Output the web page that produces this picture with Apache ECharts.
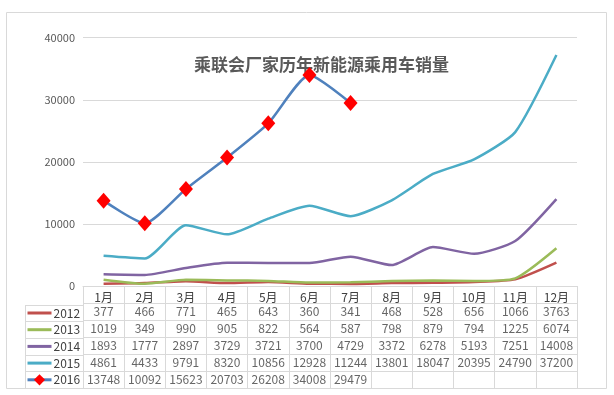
<!DOCTYPE html>
<html><head><meta charset="utf-8">
<script src="https://cdn.jsdelivr.net/npm/echarts@6/dist/echarts.min.js"></script>
<style>html,body{margin:0;padding:0;background:#fff}#c{width:614px;height:395px}</style>
</head><body><div id="c"></div>
<script>
const titleText = '乘联会厂家历年新能源乘用车销量';
const months = ['1月','2月','3月','4月','5月','6月','7月','8月','9月','10月','11月','12月'];
const years = ['2012','2013','2014','2015','2016'];
const s2012 = [377,466,771,465,643,360,341,468,528,656,1066,3763];
const s2013 = [1019,349,990,905,822,564,587,798,879,794,1225,6074];
const s2014 = [1893,1777,2897,3729,3721,3700,4729,3372,6278,5193,7251,14008];
const s2015 = [4861,4433,9791,8320,10856,12928,11244,13801,18047,20395,24790,37200];
const s2016 = [13748,10092,15623,20703,26208,34008,29479,null,null,null,null,null];
const yTicks = [0,10000,20000,30000,40000];

const allSeries = [s2012,s2013,s2014,s2015,s2016];
const colors = ['#C0504D','#9BBB59','#8064A2','#4BACC6','#4F81BD'];
const gridCol = '#d9d9d9';
const font = '"Noto Sans CJK SC", "Noto Sans", sans-serif';

const tableCells = [];
allSeries.forEach((arr, r) => arr.forEach((v, i) => { if (v !== null) tableCells.push([i, r + 1, v]); }));

const lineSeries = allSeries.map((arr, k) => {
  const s = {
    name: years[k], type: 'line', xAxisIndex: 0, yAxisIndex: 0, data: arr,
    smooth: 0.2, lineStyle: { color: colors[k], width: 2.5 }, itemStyle: { color: colors[k] },
    symbol: 'none', showSymbol: false, connectNulls: false, z: 3 + k
  };
  if (k === 4) {
    s.symbol = 'diamond'; s.showSymbol = true; s.symbolSize = [14, 16];
    s.itemStyle = { color: '#FF0000' };
  }
  return s;
});

const legendData = years.map((y, k) => k === 4
  ? { name: y, lineStyle: { width: 3, color: colors[k] } }
  : { name: y, itemStyle: { opacity: 0 }, lineStyle: { width: 3, color: colors[k] } });

const chart = echarts.init(document.getElementById('c'), null, { renderer: 'canvas' });
chart.setOption({
  animation: false,
  textStyle: { fontFamily: font },
  title: { text: titleText, left: 189, top: 51, textStyle: { fontSize: 17, fontWeight: 'bold', color: '#595959', fontFamily: font } },
  graphic: [{ type: 'rect', shape: { x: 6.5, y: 12.5, width: 600, height: 376 }, style: { stroke: gridCol, fill: 'none', lineWidth: 1 }, z: -1 }],
  legend: {
    data: legendData, orient: 'vertical', left: 26, top: 306, padding: 0,
    itemWidth: 24, itemHeight: 14, itemGap: 2.7,
    textStyle: { fontSize: 12, color: '#404040', lineHeight: 14, fontFamily: font, padding: [0, 0, 0, -3] }
  },
  grid: [
    { left: 83, right: 37, top: 37.7, height: 248.3 },
    { left: 83, right: 37, top: 286, height: 102 },
    { left: 25, width: 58, top: 305, height: 83 }
  ],
  xAxis: [
    { gridIndex: 0, type: 'category', data: months, boundaryGap: true,
      axisLine: { show: true, lineStyle: { color: gridCol } }, axisTick: { show: false },
      axisLabel: { fontSize: 12, color: '#404040', margin: 5 } },
    { gridIndex: 1, type: 'category', data: months, boundaryGap: true,
      axisLine: { show: false }, axisTick: { show: false }, axisLabel: { show: false },
      splitLine: { show: true, lineStyle: { color: gridCol } } },
    { gridIndex: 2, type: 'category', data: [''], boundaryGap: true,
      axisLine: { show: false }, axisTick: { show: false }, axisLabel: { show: false },
      splitLine: { show: true, lineStyle: { color: gridCol } } }
  ],
  yAxis: [
    { gridIndex: 0, type: 'value', min: yTicks[0], max: yTicks[yTicks.length - 1], interval: 10000,
      axisLine: { show: false }, axisTick: { show: false },
      axisLabel: { fontSize: 11, color: '#595959', margin: 8, formatter: v => String(v) },
      splitLine: { lineStyle: { color: gridCol } } },
    { gridIndex: 1, type: 'category', data: [''].concat(years), inverse: true, boundaryGap: true,
      axisLine: { show: false }, axisTick: { show: false }, axisLabel: { show: false },
      splitLine: { show: true, lineStyle: { color: gridCol } } },
    { gridIndex: 2, type: 'category', data: years, inverse: true, boundaryGap: true,
      axisLine: { show: false }, axisTick: { show: false }, axisLabel: { show: false },
      splitLine: { show: true, lineStyle: { color: gridCol } } }
  ],
  series: lineSeries.concat([{
    name: 'table', type: 'scatter', xAxisIndex: 1, yAxisIndex: 1, data: tableCells,
    symbolSize: 1, itemStyle: { color: 'rgba(0,0,0,0)' }, silent: true,
    label: { show: true, position: 'inside', formatter: p => String(p.value[2]), fontSize: 12, color: '#404040', fontFamily: font }
  }])
});
</script></body></html>
